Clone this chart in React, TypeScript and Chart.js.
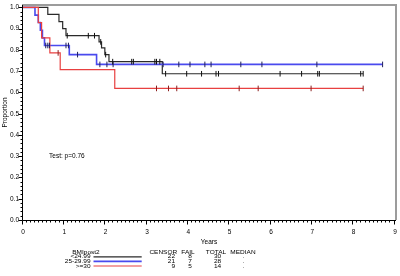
import React, { useEffect, useRef } from "react";
import { Chart, registerables } from "chart.js";

Chart.register(...registerables);

// ---------- data ----------
const xTicks = [0, 1, 2, 3, 4, 5, 6, 7, 8, 9];
const yTicks = [0, 0.1, 0.2, 0.3, 0.4, 0.5, 0.6, 0.7, 0.8, 0.9, 1.0];
const yTickLabels = ["0.0", "0.1", "0.2", "0.3", "0.4", "0.5", "0.6", "0.7", "0.8", "0.9", "1.0"];

const groupLabels = ["<24.99", "25-29.99", ">=30"];
const censorCounts = ["22", "21", "9"];
const failCounts = ["8", "7", "5"];
const totalCounts = ["30", "28", "14"];
const medianValues = [".", ".", "."];

// Kaplan-Meier steps: time at which survival becomes the value
const g1Times = [0, 0.6, 0.87, 0.96, 1.04, 1.84, 1.9, 1.98, 2.08, 3.37, 8.23];
const g1Surv = [1, 0.967, 0.933, 0.9, 0.867, 0.838, 0.81, 0.778, 0.745, 0.688, 0.688];
const g1Censor = [1.07, 1.58, 1.73, 1.88, 2.0, 2.17, 2.63, 2.67, 3.19, 3.23, 3.31, 3.45, 3.96, 4.32, 4.67, 4.73, 6.22, 6.74, 7.13, 7.17, 8.17, 8.23];

const g2Times = [0, 0.29, 0.37, 0.42, 0.47, 0.52, 1.12, 1.78, 8.7];
const g2Surv = [1, 0.964, 0.929, 0.893, 0.857, 0.821, 0.778, 0.732, 0.732];
const g2Censor = [0.55, 0.6, 0.64, 1.04, 1.1, 1.32, 1.86, 2.03, 2.18, 3.39, 3.77, 4.04, 4.4, 4.55, 5.27, 5.78, 7.11, 8.7];

const g3Times = [0, 0.37, 0.45, 0.65, 0.9, 2.22, 8.23];
const g3Surv = [1, 0.929, 0.857, 0.786, 0.707, 0.619, 0.619];
const g3Censor = [0.85, 3.23, 3.52, 3.72, 5.23, 5.69, 6.97, 8.23];

const testText = "Test: p=0.76";
const testPos = [0.63, 0.3];
const xTitle = "Years";
const yTitle = "Proportion";
const legendTitle = "BMIpost2";
const legendHeaders = ["CENSOR", "FAIL", "TOTAL", "MEDIAN"];

// ---------- styles ----------
const FONT = '"Liberation Sans", Arial, sans-serif';
const lineColors = ["#2a2a2a", "#4a4aee", "#e84040"];
const tickColors = ["#111111", "#20205a", "#8a1e1e"];
const lineWidths = [1.2, 1.6, 1.2];
const X_MINOR = 0.1;
const Y_MINOR = 0.02;

function survAt(times: number[], surv: number[], t: number) {
  let s = surv[0];
  for (let i = 0; i < times.length; i++) if (times[i] <= t + 1e-9) s = surv[i];
  return s;
}

const decorPlugin = {
  id: "kmDecor",
  afterDraw(chart: any) {
    const ctx = chart.ctx as CanvasRenderingContext2D;
    const { left, right, top, bottom } = chart.chartArea;
    const xs = chart.scales.x;
    const ys = chart.scales.y;
    ctx.save();
    // frame (top + right)
    ctx.strokeStyle = "#9c9c9c";
    ctx.lineWidth = 2;
    ctx.beginPath();
    ctx.moveTo(left - 1, top);
    ctx.lineTo(right + 1, top);
    ctx.lineTo(right + 1, bottom);
    ctx.stroke();
    // axes
    ctx.strokeStyle = "#000";
    ctx.lineWidth = 1;
    ctx.beginPath();
    ctx.moveTo(left - 0.5, top);
    ctx.lineTo(left - 0.5, bottom + 0.5);
    ctx.lineTo(right + 1, bottom + 0.5);
    // x ticks
    const x0 = xTicks[0];
    const x1 = xTicks[xTicks.length - 1];
    const nx = Math.round((x1 - x0) / X_MINOR);
    const xPer = Math.round(1 / X_MINOR);
    for (let k = 0; k <= nx; k++) {
      const v = x0 + k * X_MINOR;
      const px = Math.floor(xs.getPixelForValue(v)) - 0.5;
      const len = k % xPer === 0 ? 4 : 2;
      ctx.moveTo(px, bottom + 0.5);
      ctx.lineTo(px, bottom + 0.5 + len);
    }
    // y ticks
    const y0 = yTicks[0];
    const y1 = yTicks[yTicks.length - 1];
    const ny = Math.round((y1 - y0) / Y_MINOR);
    const yPer = Math.round(0.1 / Y_MINOR);
    for (let k = 0; k <= ny; k++) {
      const v = y0 + k * Y_MINOR;
      const py = Math.round(ys.getPixelForValue(v)) + 0.5;
      const len = k % yPer === 0 ? 4 : 2;
      ctx.moveTo(left - 0.5, py);
      ctx.lineTo(left - 0.5 - len, py);
    }
    ctx.stroke();

    // test text
    ctx.fillStyle = "#000";
    ctx.font = `6.5px ${FONT}`;
    ctx.textBaseline = "middle";
    ctx.textAlign = "left";
    ctx.fillText(testText, xs.getPixelForValue(testPos[0]), ys.getPixelForValue(testPos[1]));

    // legend table
    const sy = 0.85;
    const txt = (s: string, x: number, y: number, align: CanvasTextAlign) => {
      ctx.save();
      ctx.translate(x, y);
      ctx.scale(1, sy);
      ctx.textAlign = align;
      ctx.textBaseline = "middle";
      ctx.fillText(s, 0, 0);
      ctx.restore();
    };
    ctx.font = `6.5px ${FONT}`;
    const headY = 252;
    const rowY = [256.8, 261.4, 266];
    txt(legendTitle, 86, headY, "center");
    const headX = [163.3, 188, 216, 243];
    legendHeaders.forEach((h, i) => txt(h, headX[i], headY, "center"));
    groupLabels.forEach((g, i) => {
      txt(g, 90.5, rowY[i], "right");
      ctx.strokeStyle = lineColors[i];
      ctx.lineWidth = lineWidths[i];
      ctx.beginPath();
      ctx.moveTo(93.5, rowY[i]);
      ctx.lineTo(141.7, rowY[i]);
      ctx.stroke();
      txt(censorCounts[i], 175, rowY[i], "right");
      txt(failCounts[i], 190, rowY[i], "center");
      txt(totalCounts[i], 217.5, rowY[i], "center");
      txt(medianValues[i], 243.5, rowY[i], "center");
    });
    ctx.restore();
  },
};

export default function App() {
  const ref = useRef<HTMLCanvasElement | null>(null);
  useEffect(() => {
    if (!ref.current) return;
    const groups = [
      [g1Times, g1Surv, g1Censor],
      [g2Times, g2Surv, g2Censor],
      [g3Times, g3Surv, g3Censor],
    ] as number[][][];
    const datasets: any[] = [];
    groups.forEach(([times, surv], i) => {
      datasets.push({
        label: groupLabels[i],
        data: times.map((t, k) => ({ x: t, y: surv[k] })),
        stepped: "before",
        borderColor: lineColors[i],
        borderWidth: lineWidths[i],
        pointRadius: 0,
        fill: false,
        order: 3 - i,
      });
    });
    groups.forEach(([times, surv, cens], i) => {
      datasets.push({
        label: groupLabels[i] + " censored",
        data: cens.map((t) => ({ x: t, y: survAt(times, surv, t) })),
        showLine: false,
        pointStyle: "line",
        rotation: 90,
        pointRadius: 2.8,
        pointBorderWidth: 1,
        pointBorderColor: tickColors[i],
        pointBackgroundColor: tickColors[i],
        borderColor: tickColors[i],
        order: 0,
      });
    });
    const tickFont = { family: FONT, size: 6.5 };
    const chart = new Chart(ref.current, {
      type: "line",
      data: { datasets },
      options: {
        animation: false,
        responsive: false,
        maintainAspectRatio: false,
        events: [],
        layout: { padding: { top: 1, right: 4, left: 0, bottom: 0 } },
        plugins: { legend: { display: false }, tooltip: { enabled: false } },
        scales: {
          x: {
            type: "linear",
            min: xTicks[0],
            max: xTicks[xTicks.length - 1],
            grid: { display: false, drawTicks: false, tickLength: 0 },
            border: { display: false },
            ticks: { font: tickFont, color: "#000", padding: 8, autoSkip: false, maxRotation: 0 },
            title: { display: true, text: xTitle, font: tickFont, color: "#000", padding: { top: 0, bottom: 30.2 } },
            afterBuildTicks: (s: any) => {
              s.ticks = xTicks.map((v) => ({ value: v }));
            },
            afterFit: (s: any) => {
              s.height = 56;
              s.paddingLeft = 0;
              s.paddingRight = 0;
              s.paddingTop = 0;
              s.paddingBottom = 0;
            },
          },
          y: {
            type: "linear",
            min: 0,
            max: 1.0115,
            grid: { display: false, drawTicks: false, tickLength: 0 },
            border: { display: false },
            ticks: {
              font: tickFont,
              color: "#000",
              padding: 4,
              autoSkip: false,
              callback: (v: any) => {
                const i = yTicks.findIndex((t) => Math.abs(t - Number(v)) < 1e-6);
                return i >= 0 ? yTickLabels[i] : "";
              },
            },
            title: { display: true, text: yTitle, font: tickFont, color: "#000", padding: { top: 1.2, bottom: 0 } },
            afterBuildTicks: (s: any) => {
              s.ticks = yTicks.map((v) => ({ value: v }));
            },
            afterFit: (s: any) => {
              s.width = 23;
              s.paddingLeft = 0;
              s.paddingRight = 0;
              s.paddingTop = 0;
              s.paddingBottom = 0;
            },
          },
        },
      } as any,
      plugins: [decorPlugin],
    });
    return () => chart.destroy();
  }, []);
  return (
    <div style={{ position: "absolute", left: 0, top: 0, width: 400, height: 276, background: "#fff" }}>
      <canvas ref={ref} width={400} height={276} style={{ display: "block" }} />
    </div>
  );
}
